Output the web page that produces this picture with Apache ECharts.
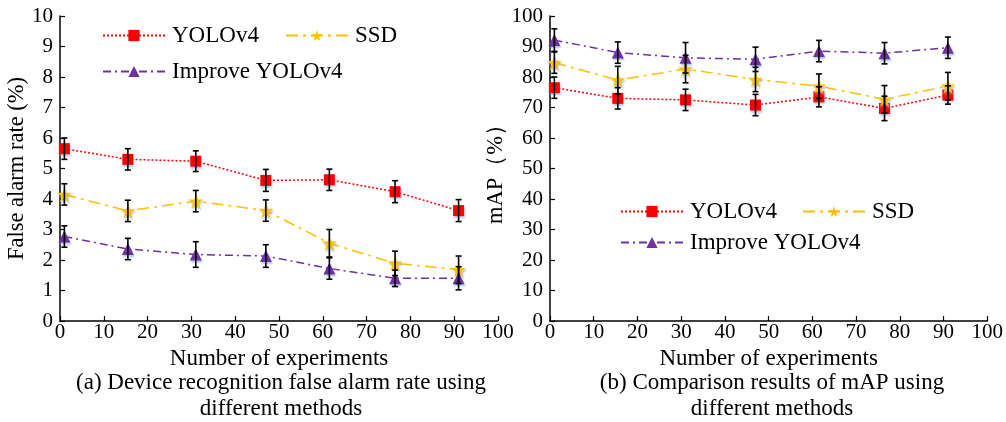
<!DOCTYPE html>
<html>
<head>
<meta charset="utf-8">
<script src="https://cdn.jsdelivr.net/npm/echarts@6/dist/echarts.min.js"></script>
<style>html,body{margin:0;padding:0;background:#fff}#c{width:1006px;height:422px}</style>
</head>
<body>
<div id="c"></div>
<script>
const seriesNames = ['YOLOv4', 'SSD', 'Improve YOLOv4'];
const xVals = [1, 15.5, 31, 47, 61.5, 76.5, 91];
const xTicks = [0, 10, 20, 30, 40, 50, 60, 70, 80, 90, 100];

// (a) False alarm rate (%)
const yoloFA = [5.65, 5.30, 5.24, 4.61, 4.63, 4.24, 3.62];
const yoloFAErr = [0.35, 0.35, 0.34, 0.36, 0.35, 0.36, 0.36];
const ssdFA = [4.15, 3.61, 3.93, 3.62, 2.55, 1.89, 1.68];
const ssdFAErr = [0.35, 0.35, 0.35, 0.35, 0.45, 0.40, 0.45];
const impFA = [2.77, 2.36, 2.18, 2.13, 1.72, 1.40, 1.40];
const impFAErr = [0.35, 0.35, 0.42, 0.37, 0.35, 0.27, 0.38];

// (b) mAP (%)
const yoloMAP = [76.5, 73.0, 72.5, 70.8, 73.5, 69.7, 74.1];
const yoloMAPErr = [3.5, 3.5, 3.5, 3.5, 3.3, 4.0, 3.0];
const ssdMAP = [84.7, 79.0, 82.6, 79.2, 77.0, 72.7, 77.0];
const ssdMAPErr = [3.5, 4.5, 4.5, 4.0, 4.0, 4.5, 4.5];
const impMAP = [92.1, 88.0, 86.3, 85.8, 88.5, 87.8, 89.6];
const impMAPErr = [3.7, 3.5, 5.0, 4.0, 3.5, 3.5, 3.5];

const FONT = '"Liberation Serif", "Times New Roman", serif';
const starPath = 'path://M50,0 L61,35 L98,35 L68,57 L79,91 L50,70 L21,91 L32,57 L2,35 L39,35 Z';

const styles = {
  'YOLOv4': {color: '#ff0000', symbol: 'rect', size: 11, dash: [2, 2]},
  'SSD': {color: '#ffc000', symbol: starPath, size: 15, dash: [12, 5, 3, 5]},
  'Improve YOLOv4': {color: '#7030a0', symbol: 'triangle', size: 12, dash: [8, 4, 2, 4]}
};

function pairs(ys) { return xVals.map((x, i) => [x, ys[i]]); }
function triples(ys, es) { return xVals.map((x, i) => [x, ys[i], es[i]]); }

function lineSeries(name, ys, gi) {
  const s = styles[name];
  return {
    name: name, type: 'line', xAxisIndex: gi, yAxisIndex: gi,
    data: pairs(ys), symbol: s.symbol, symbolSize: s.size, z: 3,
    lineStyle: {color: s.color, width: 1.5, type: s.dash},
    itemStyle: {color: s.color, shadowColor: 'rgba(140,175,225,0.7)', shadowBlur: 2, shadowOffsetX: 1, shadowOffsetY: 2},
    emphasis: {disabled: true}, animation: false
  };
}

function errSeries(ys, es, gi) {
  return {
    type: 'custom', xAxisIndex: gi, yAxisIndex: gi, z: 5, silent: true,
    data: triples(ys, es), encode: {x: 0, y: 1}, animation: false,
    renderItem: function (params, api) {
      const x = api.value(0), y = api.value(1), e = api.value(2);
      const t = api.coord([x, y + e]), b = api.coord([x, y - e]);
      const w = 3;
      const st = {stroke: '#000', lineWidth: 1.6};
      return {type: 'group', children: [
        {type: 'line', shape: {x1: t[0], y1: t[1], x2: b[0], y2: b[1]}, style: st},
        {type: 'line', shape: {x1: t[0] - w, y1: t[1], x2: t[0] + w, y2: t[1]}, style: st},
        {type: 'line', shape: {x1: b[0] - w, y1: b[1], x2: b[0] + w, y2: b[1]}, style: st}
      ]};
    }
  };
}

function xAxis(gi) {
  return {
    type: 'value', gridIndex: gi, min: xTicks[0], max: xTicks[xTicks.length - 1], interval: 10,
    name: 'Number of experiments', nameLocation: 'middle', nameGap: 25,
    nameTextStyle: {fontFamily: FONT, fontSize: 23, color: '#000'},
    axisLine: {show: true, lineStyle: {color: '#000', width: 1.5}},
    axisTick: {show: true, inside: true, length: 5, lineStyle: {color: '#000', width: 1.2}},
    axisLabel: {fontFamily: FONT, fontSize: 21, color: '#000', margin: 1},
    splitLine: {show: false}
  };
}

function yAxis(gi, max, interval, name, gap) {
  return {
    type: 'value', gridIndex: gi, min: 0, max: max, interval: interval,
    name: name, nameLocation: 'middle', nameGap: gap,
    nameTextStyle: {fontFamily: FONT, fontSize: 22.5, color: '#000'},
    axisLine: {show: true, lineStyle: {color: '#000', width: 1.5}},
    axisTick: {show: true, inside: true, length: 5, lineStyle: {color: '#000', width: 1.2}},
    axisLabel: {fontFamily: FONT, fontSize: 21, color: '#000', margin: 7},
    splitLine: {show: false}
  };
}

function legend(name, left, top) {
  return {
    data: [name], left: left, top: top, padding: 0, itemWidth: 62, itemHeight: 14, itemGap: 0,
    selectedMode: false,
    textStyle: {fontFamily: FONT, fontSize: 23, color: '#000', padding: [0, 0, 0, 2]}
  };
}

const capFont = '23px ' + FONT;
const option = {
  backgroundColor: '#fff',
  animation: false,
  grid: [
    {left: 60, top: 16, width: 438, height: 305},
    {left: 550, top: 16, width: 438, height: 305}
  ],
  xAxis: [xAxis(0), xAxis(1)],
  yAxis: [
    yAxis(0, 10, 1, 'False alarm rate (%)', 30),
    yAxis(1, 100, 10, 'mAP（%）', 40)
  ],
  legend: [
    legend('YOLOv4', 102, 24), legend('SSD', 285, 24), legend('Improve YOLOv4', 102, 60),
    legend('YOLOv4', 620, 200), legend('SSD', 802, 200), legend('Improve YOLOv4', 620, 231)
  ],
  series: [
    lineSeries('YOLOv4', yoloFA, 0), lineSeries('SSD', ssdFA, 0), lineSeries('Improve YOLOv4', impFA, 0),
    errSeries(yoloFA, yoloFAErr, 0), errSeries(ssdFA, ssdFAErr, 0), errSeries(impFA, impFAErr, 0),
    lineSeries('YOLOv4', yoloMAP, 1), lineSeries('SSD', ssdMAP, 1), lineSeries('Improve YOLOv4', impMAP, 1),
    errSeries(yoloMAP, yoloMAPErr, 1), errSeries(ssdMAP, ssdMAPErr, 1), errSeries(impMAP, impMAPErr, 1)
  ],
  graphic: [
    {type: 'text', x: 281, y: 383, style: {text: '(a) Device recognition false alarm rate using', font: capFont, fill: '#000', textAlign: 'center', textVerticalAlign: 'middle'}},
    {type: 'text', x: 281, y: 409, style: {text: 'different methods', font: capFont, fill: '#000', textAlign: 'center', textVerticalAlign: 'middle'}},
    {type: 'text', x: 772, y: 383, style: {text: '(b) Comparison results of mAP using', font: capFont, fill: '#000', textAlign: 'center', textVerticalAlign: 'middle'}},
    {type: 'text', x: 772, y: 409, style: {text: 'different methods', font: capFont, fill: '#000', textAlign: 'center', textVerticalAlign: 'middle'}}
  ]
};

const chart = echarts.init(document.getElementById('c'), null, {renderer: 'canvas'});
chart.setOption(option);
</script>
</body>
</html>
